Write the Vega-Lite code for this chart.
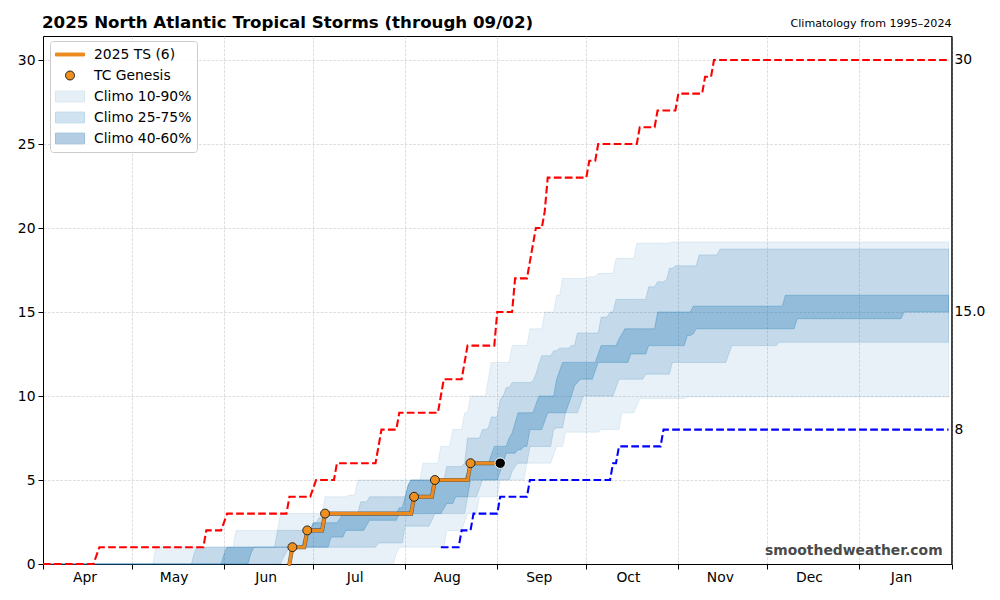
{"$schema":"https://vega.github.io/schema/vega-lite/v6.json","width":908.5,"height":528,"autosize":{"type":"none"},"padding":{"left":43,"top":36,"right":48.5,"bottom":36},"background":"white",
"title":{"text":"2025 North Atlantic Tropical Storms (through 09/02)","anchor":"start","frame":"group","offset":-14,"dx":-1,"fontSize":16.67,"font":"DejaVu Sans","fontWeight":"bold","color":"black"},
"config":{"font":"DejaVu Sans","view":{"stroke":"black","strokeWidth":1}},
"datasets":{
"climo":[
{"date":"2025-04-01","p10":0,"p25":0,"p40":0,"p60":0,"p75":0,"p90":0},
{"date":"2025-05-08","p10":0,"p25":0,"p40":0,"p60":0,"p75":0,"p90":0},
{"date":"2025-05-09","p10":0,"p25":0,"p40":0,"p60":0,"p75":0,"p90":1},
{"date":"2025-05-21","p10":0,"p25":0,"p40":0,"p60":0,"p75":0,"p90":1},
{"date":"2025-05-22","p10":0,"p25":0,"p40":0,"p60":0,"p75":0.7,"p90":1},
{"date":"2025-05-23","p10":0,"p25":0,"p40":0,"p60":0,"p75":1,"p90":1},
{"date":"2025-05-31","p10":0,"p25":0,"p40":0,"p60":0,"p75":1,"p90":1},
{"date":"2025-06-01","p10":0,"p25":0,"p40":0,"p60":0.6,"p75":1,"p90":1},
{"date":"2025-06-02","p10":0,"p25":0,"p40":0,"p60":1,"p75":1,"p90":1},
{"date":"2025-06-04","p10":0,"p25":0,"p40":0,"p60":1,"p75":1,"p90":1},
{"date":"2025-06-05","p10":0,"p25":0,"p40":0,"p60":1,"p75":1,"p90":2},
{"date":"2025-06-09","p10":0,"p25":0,"p40":0,"p60":1,"p75":1,"p90":2},
{"date":"2025-06-10","p10":0,"p25":0,"p40":0.6,"p60":1,"p75":1,"p90":2},
{"date":"2025-06-11","p10":0,"p25":0,"p40":1,"p60":1,"p75":1,"p90":2},
{"date":"2025-06-18","p10":0,"p25":0,"p40":1,"p60":1,"p75":1,"p90":2},
{"date":"2025-06-19","p10":0,"p25":0,"p40":1,"p60":1,"p75":2,"p90":2},
{"date":"2025-06-20","p10":0,"p25":0,"p40":1,"p60":1,"p75":2,"p90":3},
{"date":"2025-06-21","p10":0,"p25":0.4,"p40":1,"p60":1,"p75":2,"p90":3},
{"date":"2025-06-22","p10":0,"p25":0.7,"p40":1,"p60":1,"p75":2,"p90":3},
{"date":"2025-06-23","p10":0,"p25":1,"p40":1,"p60":1,"p75":2,"p90":3},
{"date":"2025-06-27","p10":0,"p25":1,"p40":1,"p60":1,"p75":2,"p90":3},
{"date":"2025-06-28","p10":0,"p25":1,"p40":1,"p60":1.5,"p75":2,"p90":3},
{"date":"2025-06-29","p10":0,"p25":1,"p40":1,"p60":2,"p75":2,"p90":3},
{"date":"2025-06-30","p10":0,"p25":1,"p40":1,"p60":2,"p75":2,"p90":3},
{"date":"2025-07-01","p10":0,"p25":1,"p40":1,"p60":2.45,"p75":2.45,"p90":3},
{"date":"2025-07-02","p10":0,"p25":1,"p40":1,"p60":2.45,"p75":2.45,"p90":3},
{"date":"2025-07-03","p10":0,"p25":1,"p40":1,"p60":2.45,"p75":2.75,"p90":3},
{"date":"2025-07-04","p10":0,"p25":1,"p40":1,"p60":2.45,"p75":2.75,"p90":3},
{"date":"2025-07-05","p10":0,"p25":1,"p40":1,"p60":2.45,"p75":3,"p90":4},
{"date":"2025-07-06","p10":0,"p25":1,"p40":1,"p60":2.45,"p75":3,"p90":4},
{"date":"2025-07-07","p10":0,"p25":1,"p40":1.6,"p60":2.45,"p75":3,"p90":4},
{"date":"2025-07-09","p10":0,"p25":1,"p40":1.6,"p60":2.45,"p75":3,"p90":4},
{"date":"2025-07-10","p10":0,"p25":1,"p40":1.6,"p60":2.7,"p75":3,"p90":4},
{"date":"2025-07-11","p10":0,"p25":1,"p40":1.6,"p60":3,"p75":3,"p90":4},
{"date":"2025-07-12","p10":0,"p25":1,"p40":2,"p60":3,"p75":3,"p90":4},
{"date":"2025-07-13","p10":0,"p25":1,"p40":2,"p60":3,"p75":3,"p90":4.1},
{"date":"2025-07-15","p10":0,"p25":1,"p40":2,"p60":3,"p75":3,"p90":4.1},
{"date":"2025-07-16","p10":0,"p25":1,"p40":2,"p60":3,"p75":3,"p90":5},
{"date":"2025-07-17","p10":0,"p25":1,"p40":2,"p60":3,"p75":3.7,"p90":5},
{"date":"2025-07-18","p10":0,"p25":1,"p40":2,"p60":3,"p75":3.7,"p90":5},
{"date":"2025-07-19","p10":0,"p25":1,"p40":2.3,"p60":3,"p75":3.7,"p90":5},
{"date":"2025-07-20","p10":0,"p25":1,"p40":2.6,"p60":3,"p75":4,"p90":5},
{"date":"2025-07-22","p10":0,"p25":1,"p40":2.6,"p60":3,"p75":4,"p90":5},
{"date":"2025-07-23","p10":0,"p25":1.25,"p40":2.6,"p60":3,"p75":4,"p90":5},
{"date":"2025-07-28","p10":0,"p25":1.25,"p40":2.6,"p60":3,"p75":4,"p90":5},
{"date":"2025-07-29","p10":0.6,"p25":1.25,"p40":2.6,"p60":3,"p75":4,"p90":5},
{"date":"2025-07-30","p10":1,"p25":1.25,"p40":3,"p60":3.35,"p75":4,"p90":5},
{"date":"2025-07-31","p10":1,"p25":1.25,"p40":3,"p60":3.35,"p75":4,"p90":5},
{"date":"2025-08-01","p10":1,"p25":2.25,"p40":3,"p60":4,"p75":4,"p90":5},
{"date":"2025-08-02","p10":1,"p25":2.25,"p40":3,"p60":4.7,"p75":4.7,"p90":5},
{"date":"2025-08-03","p10":1,"p25":2.25,"p40":3,"p60":5,"p75":5,"p90":5},
{"date":"2025-08-04","p10":1,"p25":2.25,"p40":3,"p60":5,"p75":5,"p90":5},
{"date":"2025-08-06","p10":1,"p25":2.25,"p40":3,"p60":5,"p75":5,"p90":5},
{"date":"2025-08-07","p10":1,"p25":2.25,"p40":3,"p60":5,"p75":5,"p90":6},
{"date":"2025-08-09","p10":1,"p25":2.25,"p40":3,"p60":5,"p75":5,"p90":6},
{"date":"2025-08-10","p10":1,"p25":2.6,"p40":3,"p60":5,"p75":5,"p90":6},
{"date":"2025-08-11","p10":1,"p25":3,"p40":3,"p60":5,"p75":5,"p90":6},
{"date":"2025-08-12","p10":1,"p25":3,"p40":3,"p60":5,"p75":5,"p90":6},
{"date":"2025-08-13","p10":1,"p25":3,"p40":3,"p60":5,"p75":5,"p90":7},
{"date":"2025-08-14","p10":1,"p25":3,"p40":3.3,"p60":5,"p75":5,"p90":7},
{"date":"2025-08-15","p10":2,"p25":3,"p40":3.6,"p60":5,"p75":5.8,"p90":7},
{"date":"2025-08-16","p10":2,"p25":3,"p40":3.6,"p60":5,"p75":5.8,"p90":7},
{"date":"2025-08-17","p10":2,"p25":3,"p40":3.6,"p60":5,"p75":5.8,"p90":8},
{"date":"2025-08-18","p10":2,"p25":3,"p40":4,"p60":5,"p75":5.8,"p90":8},
{"date":"2025-08-20","p10":2,"p25":3,"p40":4,"p60":5,"p75":5.8,"p90":8},
{"date":"2025-08-21","p10":2.5,"p25":3,"p40":4,"p60":5,"p75":6,"p90":9},
{"date":"2025-08-22","p10":3,"p25":4,"p40":4,"p60":5.5,"p75":7.5,"p90":9},
{"date":"2025-08-23","p10":3,"p25":4,"p40":5,"p60":6,"p75":7.5,"p90":10},
{"date":"2025-08-25","p10":3,"p25":4,"p40":5,"p60":6,"p75":7.5,"p90":10},
{"date":"2025-08-26","p10":4,"p25":4.5,"p40":5,"p60":6,"p75":7.5,"p90":10},
{"date":"2025-08-27","p10":4,"p25":5,"p40":5,"p60":6,"p75":8,"p90":10},
{"date":"2025-08-28","p10":4,"p25":5,"p40":5,"p60":6,"p75":8,"p90":10},
{"date":"2025-08-29","p10":4,"p25":5,"p40":5,"p60":6,"p75":8.1,"p90":11},
{"date":"2025-08-30","p10":4,"p25":5,"p40":5,"p60":6.5,"p75":8.75,"p90":12},
{"date":"2025-08-31","p10":4,"p25":5,"p40":5,"p60":7,"p75":8.75,"p90":12},
{"date":"2025-09-01","p10":4,"p25":5,"p40":5,"p60":7,"p75":8.75,"p90":12},
{"date":"2025-09-02","p10":5,"p25":5,"p40":5.5,"p60":7,"p75":9.8,"p90":12},
{"date":"2025-09-03","p10":5,"p25":5,"p40":6,"p60":7,"p75":10,"p90":12},
{"date":"2025-09-04","p10":5,"p25":5,"p40":6.6,"p60":7,"p75":10.5,"p90":12},
{"date":"2025-09-05","p10":5,"p25":5,"p40":6.6,"p60":7.5,"p75":10.5,"p90":12},
{"date":"2025-09-06","p10":5,"p25":5.5,"p40":6.6,"p60":7.8,"p75":10.8,"p90":13},
{"date":"2025-09-07","p10":5,"p25":5.8,"p40":6.6,"p60":8.4,"p75":10.8,"p90":13},
{"date":"2025-09-08","p10":5,"p25":6,"p40":6.8,"p60":9,"p75":10.8,"p90":13},
{"date":"2025-09-09","p10":5,"p25":6,"p40":6.8,"p60":9,"p75":10.8,"p90":13},
{"date":"2025-09-10","p10":5,"p25":6,"p40":7,"p60":9,"p75":10.8,"p90":13},
{"date":"2025-09-11","p10":6,"p25":6,"p40":7,"p60":9,"p75":10.8,"p90":13},
{"date":"2025-09-12","p10":6,"p25":7,"p40":8,"p60":9,"p75":10.8,"p90":14},
{"date":"2025-09-13","p10":6,"p25":7,"p40":8,"p60":9,"p75":10.9,"p90":14},
{"date":"2025-09-14","p10":6,"p25":7,"p40":8,"p60":9.5,"p75":11.3,"p90":14},
{"date":"2025-09-15","p10":6,"p25":7,"p40":8,"p60":10,"p75":11.9,"p90":14},
{"date":"2025-09-16","p10":6,"p25":7,"p40":8,"p60":10,"p75":12.4,"p90":14},
{"date":"2025-09-17","p10":6,"p25":7,"p40":8.5,"p60":10,"p75":12.4,"p90":15},
{"date":"2025-09-18","p10":6,"p25":7,"p40":9,"p60":10,"p75":12.4,"p90":15},
{"date":"2025-09-19","p10":6,"p25":7,"p40":9,"p60":10,"p75":12.4,"p90":15},
{"date":"2025-09-20","p10":6.5,"p25":8,"p40":9,"p60":10,"p75":12.7,"p90":15},
{"date":"2025-09-21","p10":7,"p25":8.1,"p40":9,"p60":11,"p75":12.7,"p90":16},
{"date":"2025-09-22","p10":7,"p25":8.1,"p40":9,"p60":11.5,"p75":12.85,"p90":16},
{"date":"2025-09-23","p10":7,"p25":8.1,"p40":9,"p60":12,"p75":12.85,"p90":17},
{"date":"2025-09-24","p10":7.85,"p25":9,"p40":9,"p60":12,"p75":12.85,"p90":17},
{"date":"2025-09-25","p10":7.85,"p25":9,"p40":9.5,"p60":12,"p75":12.85,"p90":17},
{"date":"2025-09-26","p10":7.85,"p25":9,"p40":10,"p60":12,"p75":13,"p90":17},
{"date":"2025-09-27","p10":7.85,"p25":9,"p40":10.6,"p60":12,"p75":13,"p90":17},
{"date":"2025-09-28","p10":7.85,"p25":9,"p40":10.8,"p60":12,"p75":13.75,"p90":17},
{"date":"2025-09-29","p10":7.85,"p25":9.5,"p40":11,"p60":12,"p75":13.75,"p90":17},
{"date":"2025-09-30","p10":7.85,"p25":10,"p40":11,"p60":12,"p75":13.75,"p90":17},
{"date":"2025-10-01","p10":7.85,"p25":10,"p40":11,"p60":12,"p75":13.75,"p90":17},
{"date":"2025-10-02","p10":7.85,"p25":10,"p40":11,"p60":12,"p75":13.75,"p90":17.1},
{"date":"2025-10-03","p10":7.85,"p25":10,"p40":11,"p60":12,"p75":13.75,"p90":17.1},
{"date":"2025-10-04","p10":7.85,"p25":10,"p40":11.5,"p60":12,"p75":13.75,"p90":17.1},
{"date":"2025-10-05","p10":7.85,"p25":10,"p40":12,"p60":12.5,"p75":13.75,"p90":17.3},
{"date":"2025-10-06","p10":8,"p25":10,"p40":12,"p60":13,"p75":14.7,"p90":17.3},
{"date":"2025-10-08","p10":8,"p25":10,"p40":12,"p60":13,"p75":14.7,"p90":17.3},
{"date":"2025-10-09","p10":8,"p25":10,"p40":12,"p60":13,"p75":15,"p90":17.3},
{"date":"2025-10-10","p10":8,"p25":10,"p40":12,"p60":13,"p75":15,"p90":17.3},
{"date":"2025-10-11","p10":8,"p25":10.5,"p40":12,"p60":13,"p75":15.75,"p90":18.2},
{"date":"2025-10-12","p10":8,"p25":11,"p40":12,"p60":13.4,"p75":15.75,"p90":18.2},
{"date":"2025-10-13","p10":9,"p25":11,"p40":12,"p60":13.7,"p75":15.75,"p90":18.2},
{"date":"2025-10-14","p10":9,"p25":11,"p40":12,"p60":14,"p75":15.75,"p90":18.2},
{"date":"2025-10-15","p10":9,"p25":11,"p40":12,"p60":14,"p75":15.75,"p90":18.2},
{"date":"2025-10-16","p10":9,"p25":11,"p40":12.5,"p60":14,"p75":15.75,"p90":18.2},
{"date":"2025-10-17","p10":9,"p25":11,"p40":12.5,"p60":14,"p75":15.75,"p90":18.2},
{"date":"2025-10-18","p10":9.4,"p25":11,"p40":12.5,"p60":14,"p75":15.75,"p90":19.1},
{"date":"2025-10-19","p10":9.85,"p25":11,"p40":12.5,"p60":14,"p75":15.75,"p90":19.1},
{"date":"2025-10-20","p10":9.85,"p25":11,"p40":12.5,"p60":14,"p75":15.75,"p90":19.1},
{"date":"2025-10-21","p10":9.85,"p25":11.3,"p40":12.5,"p60":14,"p75":15.75,"p90":19.1},
{"date":"2025-10-22","p10":9.85,"p25":11.3,"p40":13,"p60":14,"p75":16.5,"p90":19.1},
{"date":"2025-10-24","p10":9.85,"p25":11.3,"p40":13,"p60":14,"p75":16.5,"p90":19.1},
{"date":"2025-10-25","p10":9.85,"p25":11.3,"p40":13,"p60":15,"p75":16.8,"p90":19.1},
{"date":"2025-10-27","p10":9.85,"p25":11.3,"p40":13,"p60":15,"p75":16.8,"p90":19.1},
{"date":"2025-10-28","p10":9.85,"p25":11.3,"p40":13,"p60":15,"p75":16.9,"p90":19.1},
{"date":"2025-10-29","p10":9.85,"p25":11.3,"p40":13,"p60":15,"p75":17.6,"p90":19.1},
{"date":"2025-10-30","p10":9.85,"p25":12,"p40":13,"p60":15,"p75":17.6,"p90":19.17},
{"date":"2025-10-31","p10":9.85,"p25":12,"p40":13,"p60":15,"p75":17.75,"p90":19.17},
{"date":"2025-11-03","p10":9.85,"p25":12,"p40":13,"p60":15,"p75":17.75,"p90":19.17},
{"date":"2025-11-04","p10":9.95,"p25":12,"p40":13.6,"p60":15,"p75":17.75,"p90":19.17},
{"date":"2025-11-05","p10":9.95,"p25":12,"p40":13.6,"p60":15,"p75":17.75,"p90":19.17},
{"date":"2025-11-06","p10":9.95,"p25":12,"p40":13.7,"p60":15.35,"p75":17.75,"p90":19.17},
{"date":"2025-11-07","p10":9.95,"p25":12,"p40":14,"p60":15.35,"p75":17.75,"p90":19.17},
{"date":"2025-11-08","p10":9.95,"p25":12,"p40":14,"p60":15.35,"p75":18.4,"p90":19.17},
{"date":"2025-11-14","p10":9.95,"p25":12,"p40":14,"p60":15.35,"p75":18.4,"p90":19.17},
{"date":"2025-11-15","p10":9.95,"p25":12,"p40":14,"p60":15.35,"p75":18.75,"p90":19.17},
{"date":"2025-11-17","p10":9.95,"p25":12,"p40":14,"p60":15.35,"p75":18.75,"p90":19.17},
{"date":"2025-11-18","p10":9.95,"p25":12.5,"p40":14,"p60":15.35,"p75":18.75,"p90":19.17},
{"date":"2025-11-19","p10":9.95,"p25":13,"p40":14,"p60":15.35,"p75":18.75,"p90":19.17},
{"date":"2025-12-04","p10":9.95,"p25":13,"p40":14,"p60":15.35,"p75":18.75,"p90":19.17},
{"date":"2025-12-05","p10":9.95,"p25":13.2,"p40":14,"p60":15.35,"p75":18.75,"p90":19.17},
{"date":"2025-12-06","p10":9.95,"p25":13.2,"p40":14,"p60":15.35,"p75":18.75,"p90":19.17},
{"date":"2025-12-07","p10":9.95,"p25":13.2,"p40":14,"p60":16,"p75":18.75,"p90":19.17},
{"date":"2025-12-10","p10":9.95,"p25":13.2,"p40":14,"p60":16,"p75":18.75,"p90":19.17},
{"date":"2025-12-11","p10":9.95,"p25":13.2,"p40":14.6,"p60":16,"p75":18.75,"p90":19.17},
{"date":"2026-01-15","p10":9.95,"p25":13.2,"p40":14.6,"p60":16,"p75":18.75,"p90":19.17},
{"date":"2026-01-16","p10":9.95,"p25":13.2,"p40":15,"p60":16,"p75":18.75,"p90":19.17},
{"date":"2026-01-31","p10":9.95,"p25":13.2,"p40":15,"p60":16,"p75":18.75,"p90":19.17}
],
"max":[
{"date":"2025-04-01","value":0},{"date":"2025-04-18","value":0},{"date":"2025-04-20","value":1},{"date":"2025-05-25","value":1},{"date":"2025-05-26","value":2},{"date":"2025-05-31","value":2},{"date":"2025-06-02","value":3},{"date":"2025-06-22","value":3},{"date":"2025-06-23","value":4},{"date":"2025-06-30","value":4},{"date":"2025-07-02","value":5},{"date":"2025-07-08","value":5},{"date":"2025-07-09","value":6},{"date":"2025-07-22","value":6},{"date":"2025-07-23","value":7},{"date":"2025-07-24","value":8},{"date":"2025-07-29","value":8},{"date":"2025-07-30","value":9},{"date":"2025-08-12","value":9},{"date":"2025-08-13","value":10},{"date":"2025-08-14","value":11},{"date":"2025-08-20","value":11},{"date":"2025-08-21","value":12},{"date":"2025-08-22","value":13},{"date":"2025-08-31","value":13},{"date":"2025-09-01","value":15},{"date":"2025-09-06","value":15},{"date":"2025-09-07","value":17},{"date":"2025-09-11","value":17},{"date":"2025-09-12","value":18},{"date":"2025-09-13","value":19},{"date":"2025-09-14","value":20},{"date":"2025-09-16","value":20},{"date":"2025-09-17","value":21},{"date":"2025-09-18","value":23},{"date":"2025-10-01","value":23},{"date":"2025-10-02","value":24},{"date":"2025-10-04","value":24},{"date":"2025-10-05","value":25},{"date":"2025-10-18","value":25},{"date":"2025-10-19","value":26},{"date":"2025-10-24","value":26},{"date":"2025-10-25","value":27},{"date":"2025-10-31","value":27},{"date":"2025-11-01","value":28},{"date":"2025-11-09","value":28},{"date":"2025-11-10","value":29},{"date":"2025-11-12","value":29},{"date":"2025-11-13","value":30},{"date":"2026-01-31","value":30}
],
"min":[
{"date":"2025-08-13","value":1},{"date":"2025-08-19","value":1},{"date":"2025-08-20","value":2},{"date":"2025-08-23","value":2},{"date":"2025-08-24","value":3},{"date":"2025-09-01","value":3},{"date":"2025-09-02","value":4},{"date":"2025-09-11","value":4},{"date":"2025-09-12","value":5},{"date":"2025-10-09","value":5},{"date":"2025-10-10","value":6},{"date":"2025-10-11","value":6},{"date":"2025-10-12","value":7},{"date":"2025-10-26","value":7},{"date":"2025-10-27","value":8},{"date":"2026-01-31","value":8}
],
"season":[
{"date":"2025-06-23","value":0},{"date":"2025-06-24","value":1},{"date":"2025-06-28","value":1},{"date":"2025-06-29","value":2},{"date":"2025-07-04","value":2},{"date":"2025-07-05","value":3},{"date":"2025-08-03","value":3},{"date":"2025-08-04","value":4},{"date":"2025-08-10","value":4},{"date":"2025-08-11","value":5},{"date":"2025-08-22","value":5},{"date":"2025-08-23","value":6},{"date":"2025-09-02","value":6}
],
"genesis":[
{"date":"2025-06-24","value":1},{"date":"2025-06-29","value":2},{"date":"2025-07-05","value":3},{"date":"2025-08-04","value":4},{"date":"2025-08-11","value":5},{"date":"2025-08-23","value":6}
],
"latest":[{"date":"2025-09-02","value":6}],
"endLabels":[{"date":"2026-02-01","value":30,"label":"30"},{"date":"2026-02-01","value":15,"label":"15.0"},{"date":"2026-02-01","value":8,"label":"8"}],
"legendRows":[{"series":"2025 TS (6)"},{"series":"TC Genesis"},{"series":"Climo 10-90%"},{"series":"Climo 25-75%"},{"series":"Climo 40-60%"}]
},
"layer":[
{"data":{"name":"climo"},"mark":{"type":"area","fill":"#1f77b4","fillOpacity":0.1,"stroke":"#1f77b4","strokeOpacity":0.1,"strokeWidth":1},
"encoding":{
"x":{"field":"date","type":"temporal","title":null,"scale":{"type":"utc","domain":[{"year":2025,"month":4,"date":1,"utc":true},{"year":2026,"month":2,"date":1,"utc":true}]},
"axis":{"orient":"bottom","values":[{"year":2025,"month":4,"date":1,"utc":true},{"year":2025,"month":5,"date":1,"utc":true},{"year":2025,"month":6,"date":1,"utc":true},{"year":2025,"month":7,"date":1,"utc":true},{"year":2025,"month":8,"date":1,"utc":true},{"year":2025,"month":9,"date":1,"utc":true},{"year":2025,"month":10,"date":1,"utc":true},{"year":2025,"month":11,"date":1,"utc":true},{"year":2025,"month":12,"date":1,"utc":true},{"year":2026,"month":1,"date":1,"utc":true},{"year":2026,"month":2,"date":1,"utc":true}],"labels":false,"ticks":true,"tickSize":5,"tickColor":"black","domain":true,"domainColor":"black","grid":true,"gridColor":"#c8c8c8","gridDash":[2.8,1.4],"gridWidth":0.6,"title":null}},
"y":{"field":"p90","type":"quantitative","title":null,"scale":{"domain":[0,31.43],"nice":false,"zero":false},
"axis":{"orient":"left","values":[0,5,10,15,20,25,30],"tickSize":5,"tickColor":"black","domain":true,"domainColor":"black","grid":true,"gridColor":"#c8c8c8","gridDash":[2.8,1.4],"gridWidth":0.6,"labelFontSize":13.89,"labelColor":"black","labelPadding":3,"title":null}},
"y2":{"field":"p10"}}},
{"data":{"name":"climo"},"mark":{"type":"area","fill":"#1f77b4","fillOpacity":0.18,"stroke":"#1f77b4","strokeOpacity":0.18,"strokeWidth":1},
"encoding":{
"x":{"field":"date","type":"temporal","title":null,
"axis":{"orient":"bottom","values":[{"year":2025,"month":4,"date":15,"utc":true},{"year":2025,"month":5,"date":15,"utc":true},{"year":2025,"month":6,"date":15,"utc":true},{"year":2025,"month":7,"date":15,"utc":true},{"year":2025,"month":8,"date":15,"utc":true},{"year":2025,"month":9,"date":15,"utc":true},{"year":2025,"month":10,"date":15,"utc":true},{"year":2025,"month":11,"date":15,"utc":true},{"year":2025,"month":12,"date":15,"utc":true},{"year":2026,"month":1,"date":15,"utc":true}],"format":"%b","ticks":false,"domain":false,"grid":false,"labelFontSize":13.89,"labelColor":"black","labelPadding":6,"labelFlush":false,"labelOverlap":false,"title":null}},
"y":{"field":"p75","type":"quantitative","title":null,
"axis":{"orient":"right","values":[0],"labels":false,"ticks":false,"grid":false,"domain":true,"domainColor":"black","title":null}},
"y2":{"field":"p25"}}},
{"data":{"name":"climo"},"mark":{"type":"area","fill":"#1f77b4","fillOpacity":0.3,"stroke":"#1f77b4","strokeOpacity":0.3,"strokeWidth":1},
"encoding":{"x":{"field":"date","type":"temporal","axis":null},"y":{"field":"p60","type":"quantitative","axis":null},"y2":{"field":"p40"}}},
{"data":{"name":"max"},"mark":{"type":"line","color":"#ff0000","strokeWidth":2.08,"strokeDash":[7.7,3.3]},
"encoding":{"x":{"field":"date","type":"temporal","axis":null},"y":{"field":"value","type":"quantitative","axis":null}}},
{"data":{"name":"min"},"mark":{"type":"line","color":"#0000ff","strokeWidth":2.08,"strokeDash":[7.7,3.3]},
"encoding":{"x":{"field":"date","type":"temporal","axis":null},"y":{"field":"value","type":"quantitative","axis":null}}},
{"data":{"name":"season"},"mark":{"type":"line","color":"#5a4a30","strokeWidth":4.1,"strokeCap":"round","opacity":0.85},
"encoding":{"x":{"field":"date","type":"temporal","axis":null},"y":{"field":"value","type":"quantitative","axis":null}}},
{"data":{"name":"season"},"mark":{"type":"line","color":"#ec8a1e","strokeWidth":3,"strokeCap":"round"},
"encoding":{"x":{"field":"date","type":"temporal","axis":null},"y":{"field":"value","type":"quantitative","axis":null}}},
{"data":{"name":"genesis"},"mark":{"type":"point","filled":true,"fill":"#ee8f1e","stroke":"#222222","strokeWidth":1,"opacity":1,"size":80},
"encoding":{"x":{"field":"date","type":"temporal","axis":null},"y":{"field":"value","type":"quantitative","axis":null}}},
{"data":{"name":"latest"},"mark":{"type":"point","filled":true,"fill":"black","stroke":"white","strokeWidth":1,"opacity":1,"size":110},
"encoding":{"x":{"field":"date","type":"temporal","axis":null},"y":{"field":"value","type":"quantitative","axis":null}}},
{"data":{"name":"endLabels"},"mark":{"type":"text","align":"left","baseline":"middle","dx":3,"fontSize":13.89,"color":"black"},
"encoding":{"x":{"field":"date","type":"temporal","axis":null},"y":{"field":"value","type":"quantitative","axis":null},"text":{"field":"label"}}},
{"data":{"values":[{"date":"2026-02-01","value":31.43,"label":"Climatology from 1995–2024"}]},"mark":{"type":"text","align":"right","baseline":"alphabetic","dy":-9,"fontSize":11.1,"color":"black"},
"encoding":{"x":{"field":"date","type":"temporal","axis":null},"y":{"field":"value","type":"quantitative","axis":null},"text":{"field":"label"}}},
{"data":{"values":[{"date":"2026-01-29","value":0.8,"label":"smoothedweather.com"}]},"mark":{"type":"text","align":"right","baseline":"middle","fontSize":13.89,"fontWeight":"bold","color":"#4a4a4a"},
"encoding":{"x":{"field":"date","type":"temporal","axis":null},"y":{"field":"value","type":"quantitative","axis":null},"text":{"field":"label"}}},
{"data":{"name":"legendRows"},"mark":{"type":"point","filled":true,"opacity":1,"strokeWidth":1},
"encoding":{
"x":{"field":"date","type":"temporal","axis":null},
"y":{"field":"value","type":"quantitative","axis":null},
"fill":{"field":"series","type":"nominal","scale":{"domain":["2025 TS (6)","TC Genesis","Climo 10-90%","Climo 25-75%","Climo 40-60%"],"range":["#ec8a1e","#ee8f1e","#e6eff6","#cfe3f0","#b4cde3"]},
"legend":{"title":null,"orient":"none","legendX":7,"legendY":5,"labelFontSize":13.89,"labelColor":"black","symbolSize":841,"clipHeight":17,"rowPadding":4,"labelOffset":9,"padding":5,"fillColor":"rgba(255,255,255,0.85)","strokeColor":"#cccccc","cornerRadius":3,"symbolStrokeWidth":1,"symbolOpacity":1}},
"stroke":{"field":"series","type":"nominal","scale":{"domain":["2025 TS (6)","TC Genesis","Climo 10-90%","Climo 25-75%","Climo 40-60%"],"range":["#ec8a1e","#222222","#d8e6f0","#bdd8ea","#9dc0db"]}},
"shape":{"field":"series","type":"nominal","scale":{"domain":["2025 TS (6)","TC Genesis","Climo 10-90%","Climo 25-75%","Climo 40-60%"],"range":["M-1,-0.1H1V0.1H-1Z","M-0.31,0A0.31,0.31,0,1,1,0.31,0A0.31,0.31,0,1,1,-0.31,0Z","M-1,-0.37H1V0.37H-1Z","M-1,-0.37H1V0.37H-1Z","M-1,-0.37H1V0.37H-1Z"]}}
}}
],
"resolve":{"axis":{"x":"independent","y":"independent"}}
}
